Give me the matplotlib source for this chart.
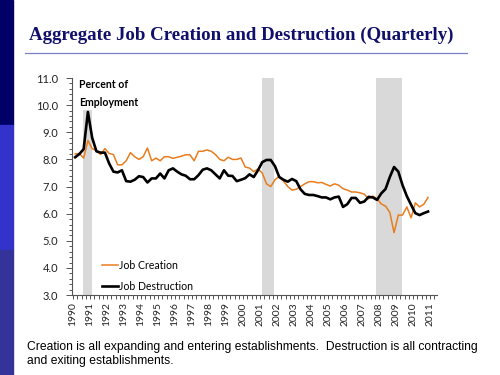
"""Aggregate job creation and destruction (quarterly), slide-style chart."""
import numpy as np
import matplotlib
matplotlib.use("Agg")
import matplotlib.pyplot as plt
from matplotlib.patches import Rectangle
from matplotlib.lines import Line2D

# quarterly series, 1990Q1 .. 2010Q4 (percent of employment)
creation = [
    8.20, 8.22, 8.05, 8.70,  8.40, 8.32, 8.18, 8.40,  8.22, 8.18, 7.80, 7.80,
    7.95, 8.25, 8.10, 8.00,  8.10, 8.42, 7.95, 8.05,  7.95, 8.10, 8.10, 8.04,
    8.08, 8.12, 8.17, 8.17,  7.95, 8.30, 8.30, 8.35,  8.30, 8.18, 8.00, 7.95,
    8.08, 8.00, 8.00, 8.05,  7.72, 7.68, 7.55, 7.65,  7.50, 7.10, 7.00, 7.25,
    7.38, 7.20, 7.00, 6.87,  6.90, 7.00, 7.10, 7.18,  7.18, 7.14, 7.15, 7.08,
    7.02, 7.10, 7.05, 6.92,  6.87, 6.80, 6.80, 6.77,  6.72, 6.55, 6.65, 6.55,
    6.36, 6.28, 6.05, 5.30,  5.95, 5.95, 6.25, 5.85,  6.40, 6.25, 6.35, 6.60,
]
destruction = [
    8.08, 8.20, 8.38, 9.75,  8.80, 8.30, 8.25, 8.25,  7.85, 7.55, 7.52, 7.60,
    7.20, 7.18, 7.25, 7.38,  7.35, 7.15, 7.30, 7.30,  7.48, 7.30, 7.60, 7.67,
    7.55, 7.45, 7.40, 7.27,  7.27, 7.42, 7.62, 7.67,  7.60, 7.45, 7.30, 7.60,
    7.40, 7.39, 7.20, 7.25,  7.31, 7.45, 7.35, 7.60,  7.90, 7.98, 7.98, 7.75,
    7.35, 7.25, 7.18, 7.28,  7.20, 6.90, 6.73, 6.69,  6.69, 6.65, 6.60, 6.60,
    6.53, 6.60, 6.63, 6.25,  6.35, 6.58, 6.58, 6.40,  6.45, 6.62, 6.60, 6.51,
    6.75, 6.91, 7.35, 7.72,  7.55, 7.05, 6.65, 6.33,  6.02, 5.95, 6.02, 6.08,
]
recessions = [(1990.6, 1991.1), (2001.1, 2001.8), (2007.8, 2009.35)]
years = list(range(1990, 2012))

NAVY = "#10106b"
ORANGE = "#e87d1e"

fig = plt.figure(figsize=(5, 3.75), dpi=100)

# left decorative strip of the slide
for y0, col in [(2/3, "#000066"), (1/3, "#3333cc"), (0, "#333399")]:
    fig.patches.append(Rectangle((0, y0), 0.025, 1/3, transform=fig.transFigure,
                                 color=col, zorder=0))

fig.text(0.058, 0.905, "Aggregate Job Creation and Destruction (Quarterly)",
         family="Liberation Serif", weight="bold", fontsize=13.6, color=NAVY,
         va="center")
fig.add_artist(Line2D([0.05, 0.934], [0.858, 0.858], color="#7b7fc4", lw=0.9))

ax = fig.add_axes([0.144, 0.213, 0.73, 0.579])
x = 1990.125 + 0.25 * np.arange(len(creation))

for a, b in recessions:
    ax.axvspan(a, b, color="#d9d9d9", lw=0, zorder=0)

ax.plot(x, creation, color=ORANGE, lw=1.1, label="Job Creation", zorder=3)
ax.plot(x, destruction, color="black", lw=1.9, label="Job Destruction", zorder=3)

ax.set_ylim(3, 11)
ax.set_xlim(1989.94, 2011.4)
ax.set_yticks(np.arange(3, 11.01, 1.0))
ax.set_yticks(np.arange(3, 11.01, 0.2), minor=True)
ax.set_yticklabels([f"{v:.1f}" for v in np.arange(3, 11.01, 1.0)])
ax.set_xticks(years)
ax.set_xticks(np.arange(1990, 2011.3, 0.25), minor=True)
ax.set_xticklabels([str(y) for y in years], rotation=90)
ax.tick_params(axis="both", which="both", direction="out", color="#555555",
               labelcolor="#222222", width=0.7)
ax.tick_params(axis="y", which="major", length=4, pad=6, labelsize=8)
ax.tick_params(axis="y", which="minor", length=2)
ax.tick_params(axis="x", which="both", length=3, pad=2, labelsize=7.4)
for t in ax.get_xticklabels() + ax.get_yticklabels():
    t.set_family("Lato")
for s in ["top", "right"]:
    ax.spines[s].set_visible(False)
for s in ["left", "bottom"]:
    ax.spines[s].set_color("#555555")
    ax.spines[s].set_linewidth(0.8)

ax.text(1990.35, 10.97, "Percent of\nEmployment", family="Lato", weight="bold",
        fontsize=7.6, va="top", linespacing=1.75, zorder=4,
        bbox=dict(facecolor="white", edgecolor="none", pad=1.5))

leg = ax.legend(loc="lower left", bbox_to_anchor=(0.06, -0.025), frameon=True,
                facecolor="white", edgecolor="none", framealpha=1,
                prop={"family": "Lato", "size": 7.6}, handlelength=1.5,
                handletextpad=0.1, labelspacing=1.0, borderpad=0.3)
leg.set_zorder(5)

fig.text(0.054, 0.056, "Creation is all expanding and entering establishments.  "
         "Destruction is all contracting\nand exiting establishments.",
         family="Liberation Sans", fontsize=8.75, va="center", linespacing=1.25)

fig.savefig("out.png", dpi=100)
